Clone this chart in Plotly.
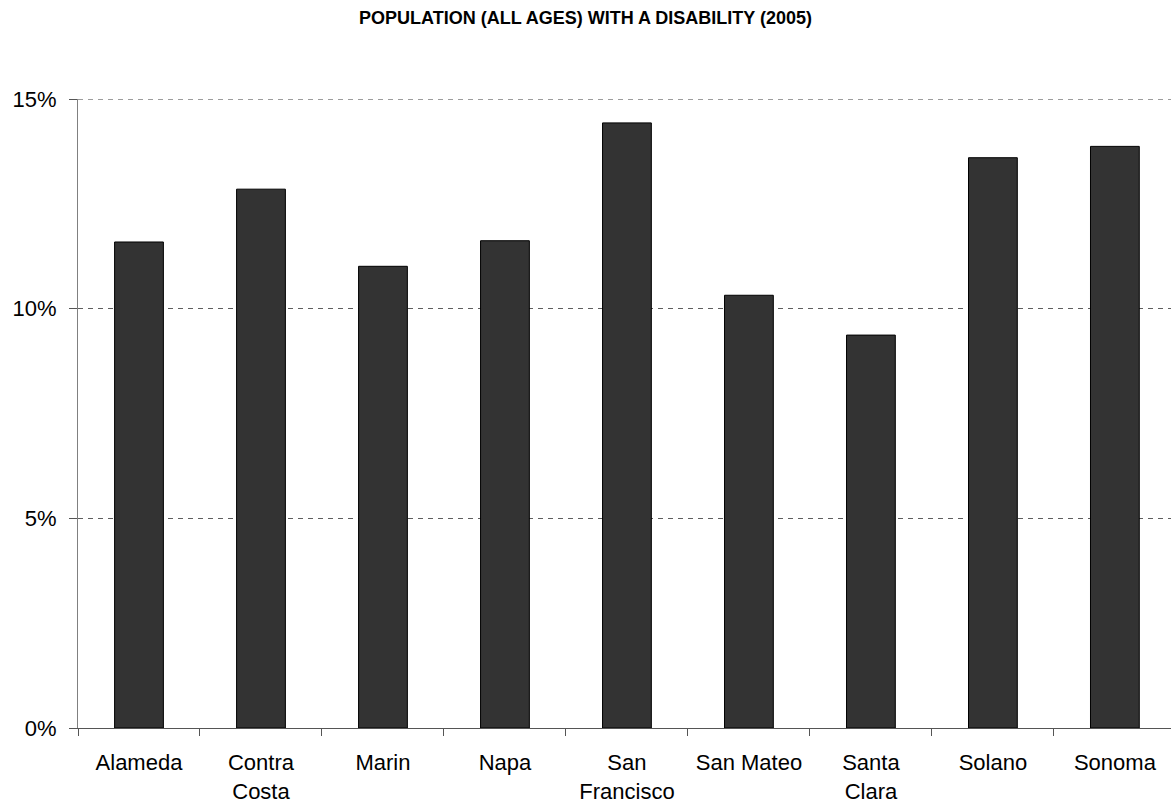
import plotly.graph_objects as go

# County names and their two-line axis labels
counties = ["Alameda", "Contra Costa", "Marin", "Napa", "San Francisco",
            "San Mateo", "Santa Clara", "Solano", "Sonoma"]
county_labels = ["Alameda", "Contra<br>Costa", "Marin", "Napa", "San<br>Francisco",
                 "San Mateo", "Santa<br>Clara", "Solano", "Sonoma"]

# Share of population (all ages) with a disability, percent
disability_pct = [11.59, 12.85, 11.01, 11.62, 14.43, 10.32, 9.37, 13.60, 13.87]

# Y axis ticks
y_ticks = [0, 5, 10, 15]
y_tick_labels = ["0%", "5%", "10%", "15%"]
y_max = 15

FONT = "Liberation Sans, Arial, sans-serif"
GRID_DASH = "5px,5px"

fig = go.Figure(
    go.Bar(
        x=counties,
        y=disability_pct,
        width=0.4,
        marker=dict(color="#333333", line=dict(color="#000000", width=1)),
        hoverinfo="x+y",
    )
)

fig.update_layout(
    width=1171,
    height=804,
    margin=dict(l=78, r=0, t=99, b=74),
    paper_bgcolor="white",
    plot_bgcolor="white",
    showlegend=False,
    font=dict(family=FONT, size=22, color="black"),
    title=dict(
        text="<b>POPULATION (ALL AGES) WITH A DISABILITY (2005)</b>",
        font=dict(family=FONT, size=18, color="black"),
        x=0.5,
        xanchor="center",
        y=1 - 17.5 / 804,
        yanchor="middle",
    ),
)

# Dashed gridline along the top of the value range (plotly culls the edge grid)
fig.add_shape(
    type="line", xref="paper", x0=0, x1=1, yref="y", y0=y_max, y1=y_max,
    line=dict(color="#3a3a3a", width=1, dash=GRID_DASH), layer="below",
)

fig.update_xaxes(
    type="category",
    tickmode="array",
    tickvals=counties,
    ticktext=county_labels,
    tickson="boundaries",
    ticks="outside",
    ticklen=7,
    tickcolor="#555555",
    showline=True,
    linecolor="#555555",
    linewidth=1,
    showgrid=False,
    range=[-0.5, 8.46],
    tickfont=dict(family=FONT, size=22, color="black"),
    ticklabelstandoff=15,
)

fig.update_yaxes(
    range=[0, y_max],
    tickmode="array",
    tickvals=y_ticks,
    ticktext=y_tick_labels,
    ticks="outside",
    ticklen=8,
    tickcolor="#555555",
    showline=True,
    linecolor="#808080",
    linewidth=1,
    showgrid=True,
    gridcolor="#5e5e5e",
    gridwidth=1,
    griddash=GRID_DASH,
    zeroline=False,
    tickfont=dict(family=FONT, size=22, color="black"),
    ticklabelstandoff=8,
)

fig.write_html("out.html")
